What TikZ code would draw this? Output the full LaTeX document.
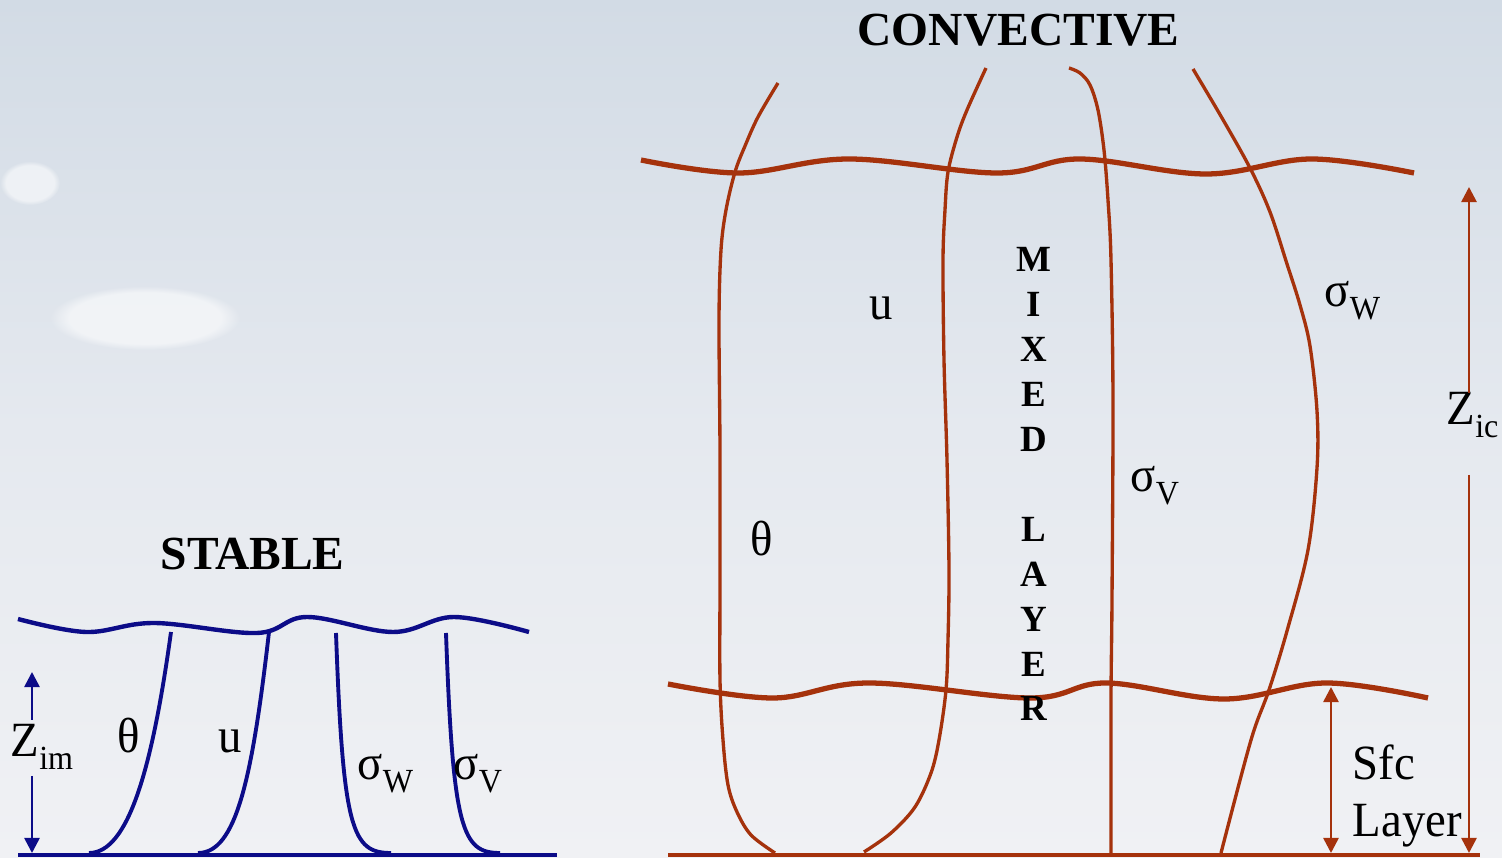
\documentclass[tikz,border=0pt]{standalone}
\usepackage{fontspec}
\setmainfont{Liberation Serif}
\newfontfamily\lblfont[FakeStretch=0.95]{Liberation Serif}
\usetikzlibrary{arrows.meta,fadings}
\definecolor{stabcol}{RGB}{12,12,136}
\definecolor{convcol}{RGB}{165,50,12}
\definecolor{skytop}{RGB}{210,219,229}
\definecolor{skymid}{RGB}{229,233,239}
\definecolor{skybot}{RGB}{240,241,244}
\newcommand{\lowsub}[1]{\raisebox{-3.5pt}{\fontsize{9.6}{10}\selectfont #1}}
\begin{document}
\begin{tikzpicture}[x=0.01cm,y=-0.01cm,
  lbl/.style={inner sep=0pt, anchor=base west, font=\lblfont\fontsize{14}{16}\selectfont},
  ttl/.style={inner sep=0pt, anchor=base west, font=\bfseries\fontsize{13.5}{15}\selectfont},
  mix/.style={inner sep=0pt, anchor=base, font=\bfseries\fontsize{10.5}{12}\selectfont},
  sprof/.style={draw=stabcol, line width=1.1pt},
  swave/.style={draw=stabcol, line width=1.25pt},
  sground/.style={draw=stabcol, line width=1.4pt},
  cprof/.style={draw=convcol, line width=0.95pt},
  cwave/.style={draw=convcol, line width=1.5pt},
  cground/.style={draw=convcol, line width=1.4pt},
  tip/.style={-{Triangle[length=4.3pt,width=4.3pt]}},
  sarrow/.style={draw=stabcol, line width=0.75pt},
  carrow/.style={draw=convcol, line width=0.75pt},
  cloud/.style={white, opacity=0.55, path fading=circle with fuzzy edge 20 percent},
  ]
\useasboundingbox (0,0) rectangle (1502,858);
\shade[top color=skytop, bottom color=skybot, middle color=skymid] (0,0) rectangle (1502,858);
\fill[cloud] (30,183) ellipse (30 and 22);
\fill[cloud] (145,318) ellipse (95 and 32);

% ---------------- STABLE ----------------
\node[ttl] (stable) at (160,570) {STABLE};
\draw[swave] plot[smooth, tension=0.6] coordinates {(18,619) (86,632) (154,623) (257,633) (307,617) (393,632) (454,617) (529,632)};
\draw[sground] (18,855) -- (557,855);
\draw[sprof] (171,632) .. controls (152,770) and (128,853) .. (89,853);
\draw[sprof] (269,632) .. controls (252,780) and (236,853) .. (198,853);
\draw[sprof] (336,633) .. controls (343,830) and (352,853) .. (391,853);
\draw[sprof] (446,633) .. controls (453,830) and (462,853) .. (500,853);

\node[lbl] (zim) at (10,757) {Z\lowsub{im}};
\coordinate (zimtop) at (32,672);
\coordinate (zimbot) at (32,853);
\coordinate (zimA) at (32,720);
\coordinate (zimB) at (32,776);
\draw[sarrow, tip] (zimA) -- (zimtop);
\draw[sarrow, tip] (zimB) -- (zimbot);

\node[lbl] (sth) at (117,753) {θ};
\node[lbl] (su) at (218,753) {u};
\node[lbl] (ssw) at (357,780) {σ\lowsub{W}};
\node[lbl] (ssv) at (453,780) {σ\lowsub{V}};

% ---------------- CONVECTIVE ----------------
\node[ttl] (conv) at (857,46) {CONVECTIVE};
\draw[cwave] plot[smooth, tension=0.6] coordinates {(641,160) (739,173) (849,159) (997,173) (1080,159) (1206,174) (1311,159) (1414,173)};
\draw[cwave] plot[smooth, tension=0.6] coordinates {(668,684) (773,698) (869,683) (1030,698) (1106,683) (1224,699) (1326,683) (1428,698)};
\draw[cground] (668,855) -- (1480,855);

% theta profile
\draw[cprof] plot[smooth, tension=0.55] coordinates {(778,83) (758,117) (745,146) (735,172) (726,210) (721,250) (719,320) (720,450) (720,580) (720,680) (723,740) (728,785) (737,812) (751,835) (775,853)};
% u profile
\draw[cprof] plot[smooth, tension=0.55] coordinates {(986,68) (967,110) (957,137) (948,172) (945,210) (943,260) (944,360) (947,460) (949,570) (948,640) (946,690) (939,740) (931,773) (915,807) (891,833) (864,852)};
% sigma v profile
\draw[cprof] plot[smooth, tension=0.55] coordinates {(1069,68) (1080,73) (1090,85) (1098,110) (1104,150) (1108,200) (1111,260) (1113,400) (1112,600) (1111,700) (1111,853)};
% sigma w profile
\draw[cprof] plot[smooth, tension=0.55] coordinates {(1193,69) (1222,118) (1250,168) (1270,212) (1287,264) (1300,305) (1310,346) (1317,411) (1317,468) (1308,550) (1287,631) (1269,690) (1251,740) (1221,853)};

\foreach \l/\k in {M/0,I/1,X/2,E/3,D/4,L/6,A/7,Y/8,E/9,R/10}
  \node[mix, name=mx\k] at (1034,{272+44.9*\k}) {\l};

\node[lbl] (cu) at (869,320) {u};
\node[lbl] (cth) at (750,556) {θ};
\node[lbl] (csw) at (1324,307) {σ\lowsub{W}};
\node[lbl] (csv) at (1130,492) {σ\lowsub{V}};

\node[lbl] (zic) at (1446,425) {Z\lowsub{ic}};
\coordinate (zictop) at (1469,187);
\coordinate (zicA) at (1469,393);
\coordinate (zicB) at (1469,475);
\coordinate (zicbot) at (1469,853);
\draw[carrow, tip] (zicA) -- (zictop);
\draw[carrow, tip] (zicB) -- (zicbot);

\node[lbl] (sfc) at (1352,780) {Sfc};
\node[lbl] (layer) at (1352,837) {Layer};
\coordinate (sfctop) at (1331,687);
\coordinate (sfcbot) at (1331,853);
\draw[carrow, {Triangle[length=4.3pt,width=4.3pt]}-{Triangle[length=4.3pt,width=4.3pt]}] (sfctop) -- (sfcbot);
\end{tikzpicture}
\end{document}
